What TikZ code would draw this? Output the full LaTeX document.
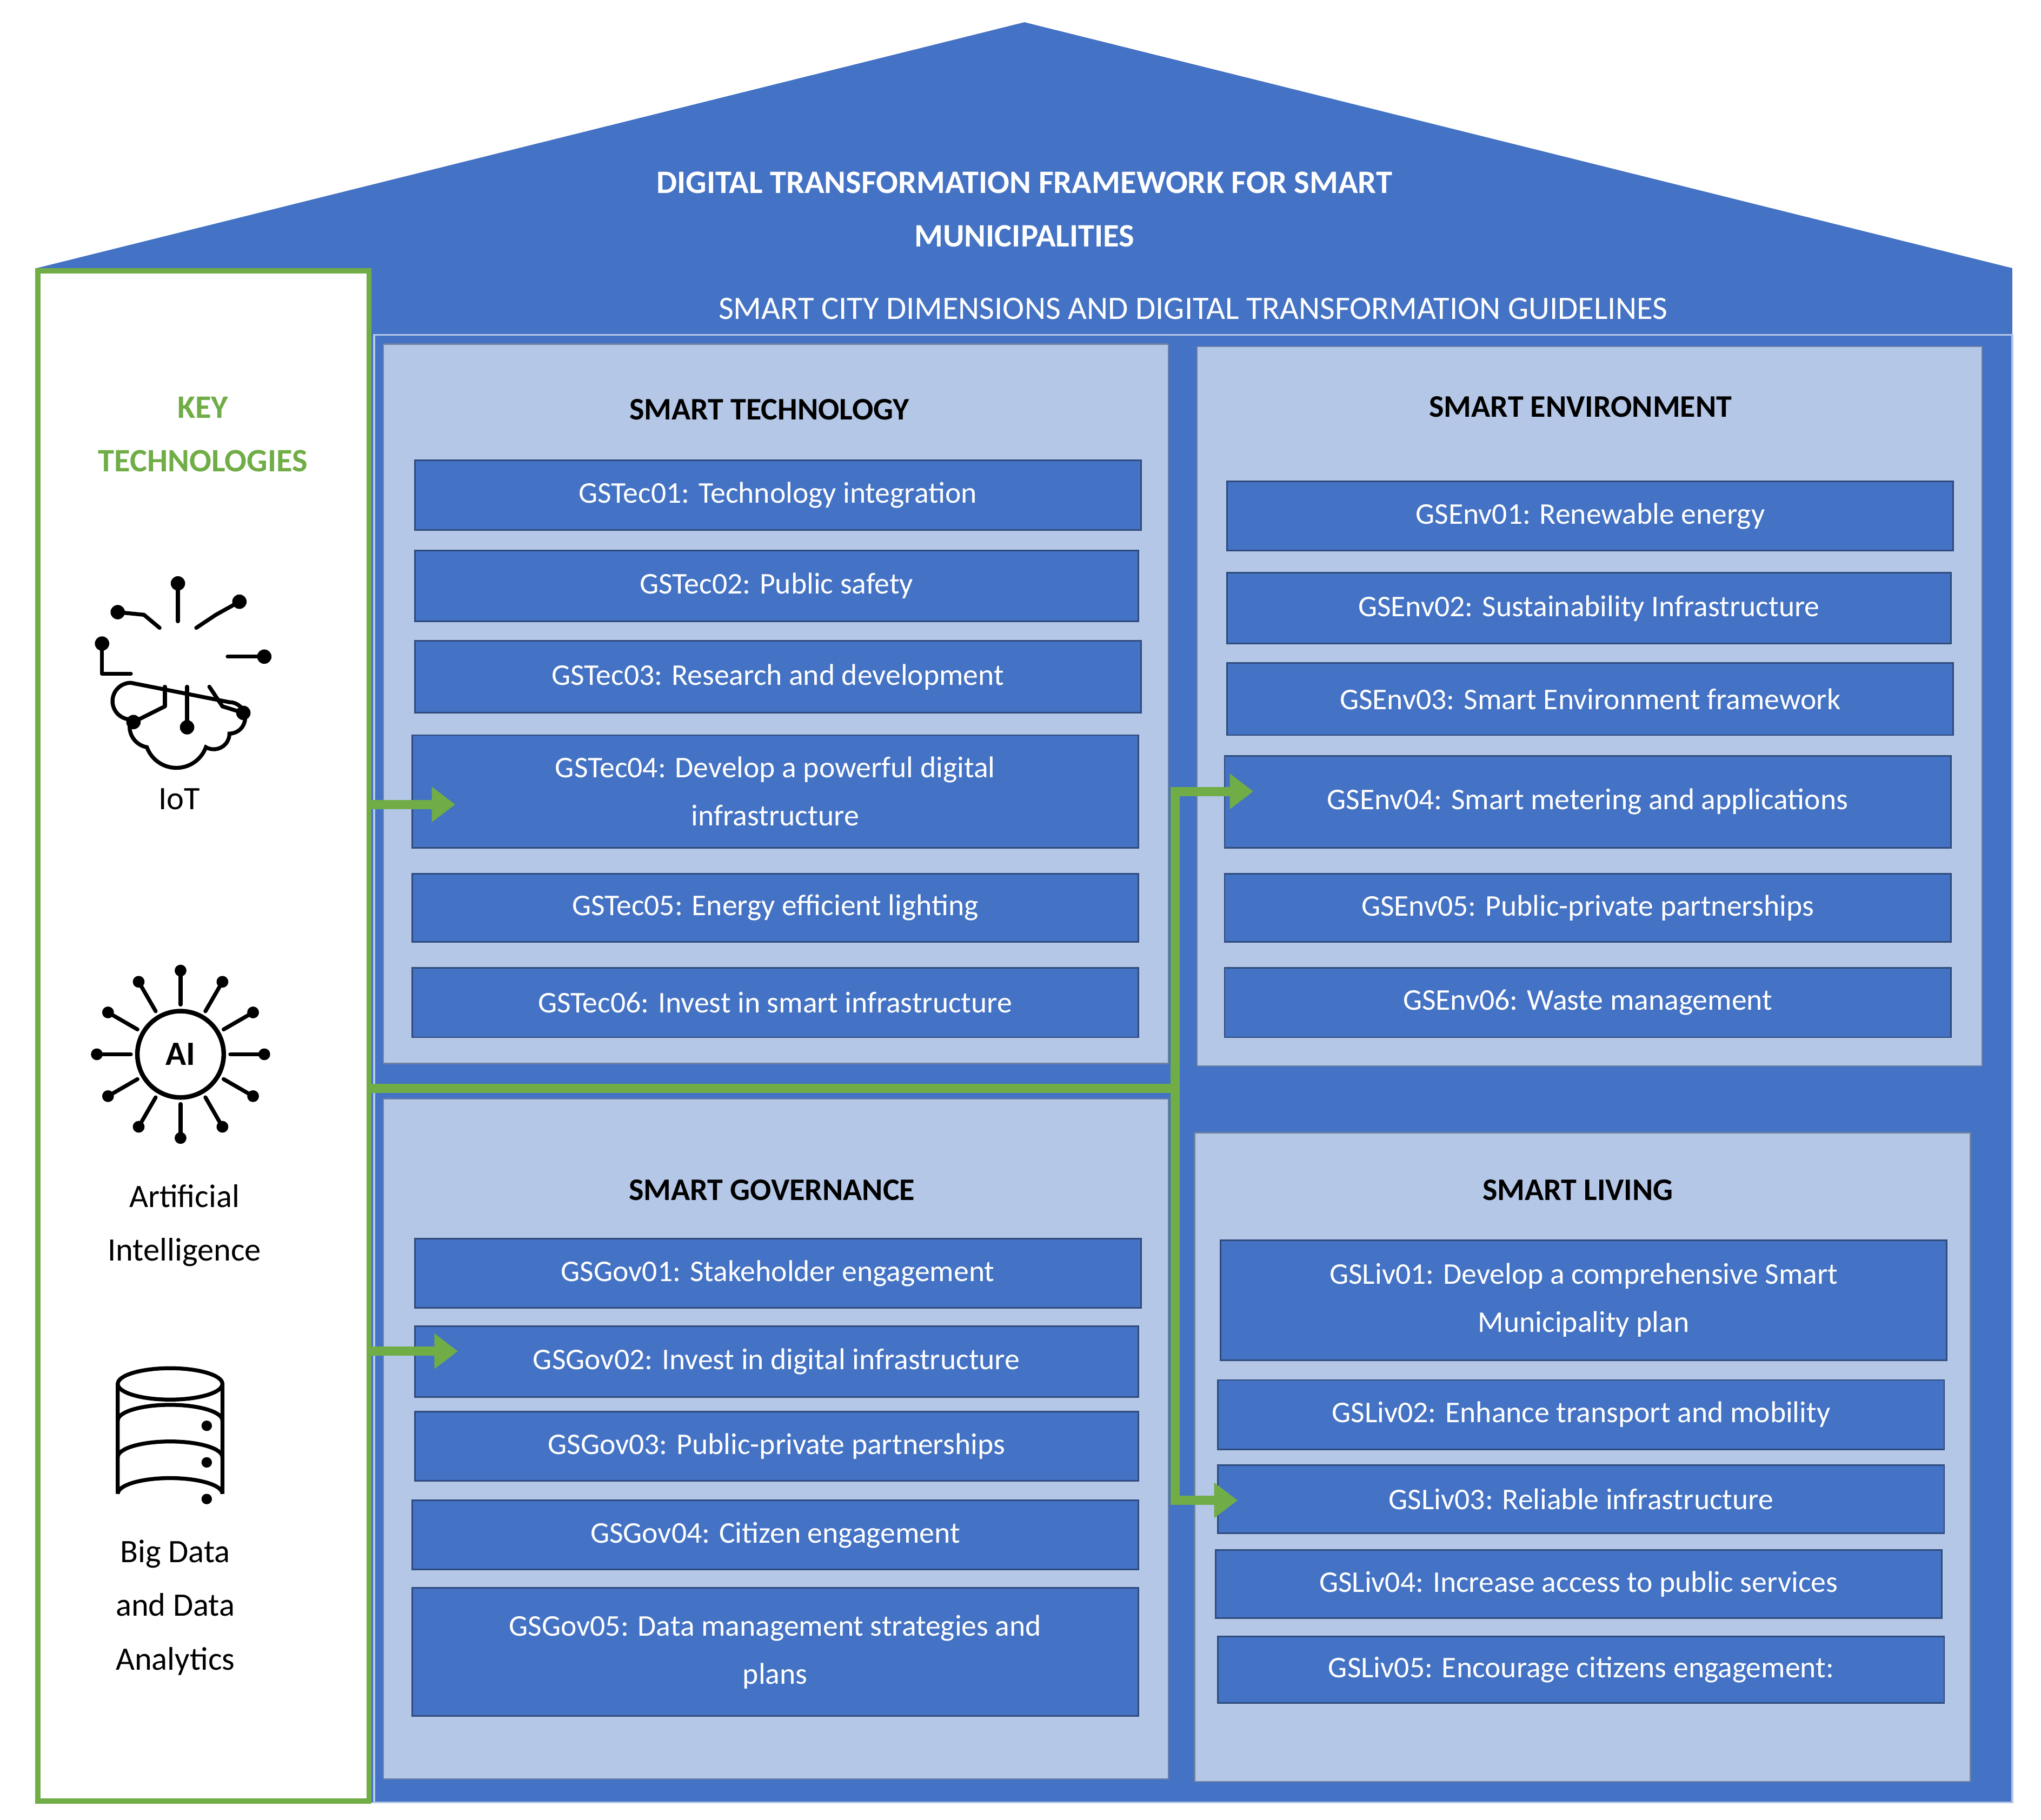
\documentclass[tikz,border=0pt]{standalone}
\usepackage{fontspec}
\setmainfont{Carlito}
\usetikzlibrary{arrows.meta}
\definecolor{hblue}{HTML}{4472C4}
\definecolor{lblue}{HTML}{B4C7E7}
\definecolor{dbord}{HTML}{2F4B7C}
\definecolor{gr}{HTML}{70AD47}
\tikzset{
 it/.style={draw=dbord,line width=1.2pt,fill=hblue,text=white,align=center,font=\fontsize{23}{37}\selectfont,inner sep=0pt},
 pan/.style={draw=dbord!70,line width=1pt,fill=lblue},
 ptitle/.style={font=\fontsize{24}{28}\selectfont\bfseries,text=black},
 garr/.style={draw=gr,line width=7pt,-{Triangle[length=18pt,width=26pt]}},
 gl/.style={draw=gr,line width=7pt},
 lab/.style={font=\fontsize{25}{41}\selectfont,align=center},
 ic/.style={line width=3.5pt,black,line cap=round}
}
\begin{document}
\begin{tikzpicture}[x=1pt,y=-1pt]
\useasboundingbox (0,0) rectangle (1560,1391);
\fill[white] (0,0) rectangle (1560,1391);
% house
\fill[hblue] (28,205) -- (783,17) -- (1538,205) -- (1538,1378) -- (28,1378) -- cycle;
\draw[lblue,line width=1.5pt] (286,256) rectangle (1538,1378);
\node[font=\fontsize{25}{41}\selectfont\bfseries,text=white,align=center] (title) at (783,160) {DIGITAL TRANSFORMATION FRAMEWORK FOR SMART\\MUNICIPALITIES};
\node[font=\fontsize{25}{30}\selectfont,text=white] (sub) at (912,236) {SMART CITY DIMENSIONS AND DIGITAL TRANSFORMATION GUIDELINES};
% left panel
\draw[gr,line width=4pt,fill=white] (29,207) rectangle (282,1377);
\node[font=\fontsize{25}{41}\selectfont\bfseries,text=gr,align=center] (kt) at (155,332) {KEY\\TECHNOLOGIES};
% panels
\draw[pan] (293,263) rectangle (893,813);
\draw[pan] (915,265) rectangle (1515,815);
\draw[pan] (293,840) rectangle (893,1360);
\draw[pan] (913,866) rectangle (1506,1362);
\node[ptitle] (pt) at (588,313) {SMART TECHNOLOGY};
\node[ptitle] (pe) at (1208,311) {SMART ENVIRONMENT};
\node[ptitle] (pg) at (590,910) {SMART GOVERNANCE};
\node[ptitle] (pl) at (1206,910) {SMART LIVING};
% tech
\node[it,minimum width=555pt,minimum height=53pt] (t1) at (594.5,378.5) {GSTec01: Technology integration};
\node[it,minimum width=553pt,minimum height=54pt] (t2) at (593.5,448) {GSTec02: Public safety};
\node[it,minimum width=555pt,minimum height=55pt] (t3) at (594.5,517.5) {GSTec03: Research and development};
\node[it,minimum width=555pt,minimum height=86pt] (t4) at (592.5,605) {GSTec04: Develop a powerful digital\\infrastructure};
\node[it,minimum width=555pt,minimum height=52pt] (t5) at (592.5,694) {GSTec05: Energy efficient lighting};
\node[it,minimum width=555pt,minimum height=53pt] (t6) at (592.5,766.5) {GSTec06: Invest in smart infrastructure};
% env
\node[it,minimum width=555pt,minimum height=53pt] (e1) at (1215.5,394.5) {GSEnv01: Renewable energy};
\node[it,minimum width=553pt,minimum height=54pt] (e2) at (1214.5,465) {GSEnv02: Sustainability Infrastructure};
\node[it,minimum width=555pt,minimum height=55pt] (e3) at (1215.5,534.5) {GSEnv03: Smart Environment framework};
\node[it,minimum width=555pt,minimum height=70pt] (e4) at (1213.5,613) {GSEnv04: Smart metering and applications};
\node[it,minimum width=555pt,minimum height=52pt] (e5) at (1213.5,694) {GSEnv05: Public-private partnerships};
\node[it,minimum width=555pt,minimum height=53pt] (e6) at (1213.5,766.5) {GSEnv06: Waste management};
% gov
\node[it,minimum width=555pt,minimum height=53pt] (g1) at (594.5,973.5) {GSGov01: Stakeholder engagement};
\node[it,minimum width=553pt,minimum height=54pt] (g2) at (593.5,1041) {GSGov02: Invest in digital infrastructure};
\node[it,minimum width=553pt,minimum height=53pt] (g3) at (593.5,1105.5) {GSGov03: Public-private partnerships};
\node[it,minimum width=555pt,minimum height=53pt] (g4) at (592.5,1173.5) {GSGov04: Citizen engagement};
\node[it,minimum width=555pt,minimum height=98pt] (g5) at (592.5,1263) {GSGov05: Data management strategies and\\plans};
% living
\node[it,minimum width=555pt,minimum height=92pt] (l1) at (1210.5,994) {GSLiv01: Develop a comprehensive Smart\\Municipality plan};
\node[it,minimum width=555pt,minimum height=53pt] (l2) at (1208.5,1081.5) {GSLiv02: Enhance transport and mobility};
\node[it,minimum width=555pt,minimum height=52pt] (l3) at (1208.5,1146) {GSLiv03: Reliable infrastructure};
\node[it,minimum width=555pt,minimum height=52pt] (l4) at (1206.5,1211) {GSLiv04: Increase access to public services};
\node[it,minimum width=555pt,minimum height=51pt] (l5) at (1208.5,1276.5) {GSLiv05: Encourage citizens engagement:};
% green connectors
\coordinate (hl) at (282,832);
\coordinate (hr) at (898,832);
\coordinate (vt) at (898,605);
\coordinate (vb) at (898,1147);
\coordinate (a1s) at (280,615);
\coordinate (a1e) at (348,615);
\coordinate (a2s) at (280,1033);
\coordinate (a2e) at (350,1033);
\coordinate (a3e) at (958,605);
\coordinate (a4e) at (946,1147);
\draw[gl] (hl) -- (hr);
\draw[gl] (vt) -- (vb);
\draw[garr] (a1s) -- (a1e);
\draw[garr] (a2s) -- (a2e);
\draw[garr] ([xshift=-3.5pt]vt) -- (a3e);
\draw[garr] ([xshift=-3.5pt]vb) -- (a4e);
% IoT icon
\draw[ic,line width=3pt] (100,522) arc (270:90:14) arc (200:100:16) arc (160:20:24) arc (120:0:12) arc (90:-90:12) -- cycle;
\foreach \a/\b/\c/\d in {136/475/136/446, 150/480/165/470, 165/470/183/460, 122/480/110/470, 110/470/90/468, 174/502/202/502, 100/515/78/515, 78/515/78/492, 126/525/126/540, 126/540/102/552, 143/525/143/556, 160/525/170/540, 170/540/186/545}
  \draw[ic,line width=3pt] (\a,\b) -- (\c,\d);
\foreach \p in {(136,446),(183,460),(90,468),(202,502),(78,492),(102,552),(143,556),(186,545)}
  \fill \p circle (5.5);
\node[lab] (iot) at (137,611) {IoT};
% AI icon
\draw[ic] (138,806) circle (33);
\node[font=\fontsize{26}{30}\selectfont\bfseries] (ai) at (138,806) {AI};
\foreach \ang in {0,30,...,330}
  { \draw[ic,line width=3pt] (138,806) ++(\ang:38) -- ++(\ang:22);
    \fill (138,806) ++(\ang:64) circle (4.5); }
\node[lab] (ail) at (141,937) {Artificial\\Intelligence};
% database
\draw[ic,line width=3pt] (90,1058) -- (90,1142) arc (180:360:40 and 12) -- (170,1058);
\draw[ic,line width=3pt] (130,1058) ellipse (40 and 12);
\draw[ic,line width=3pt] (90,1086) arc (180:360:40 and 12);
\draw[ic,line width=3pt] (90,1114) arc (180:360:40 and 12);
\foreach \y in {1090,1118,1146} \fill (158,\y) circle (4);
\node[lab] (bd) at (134,1229) {Big Data\\and Data\\Analytics};
\end{tikzpicture}
\end{document}
